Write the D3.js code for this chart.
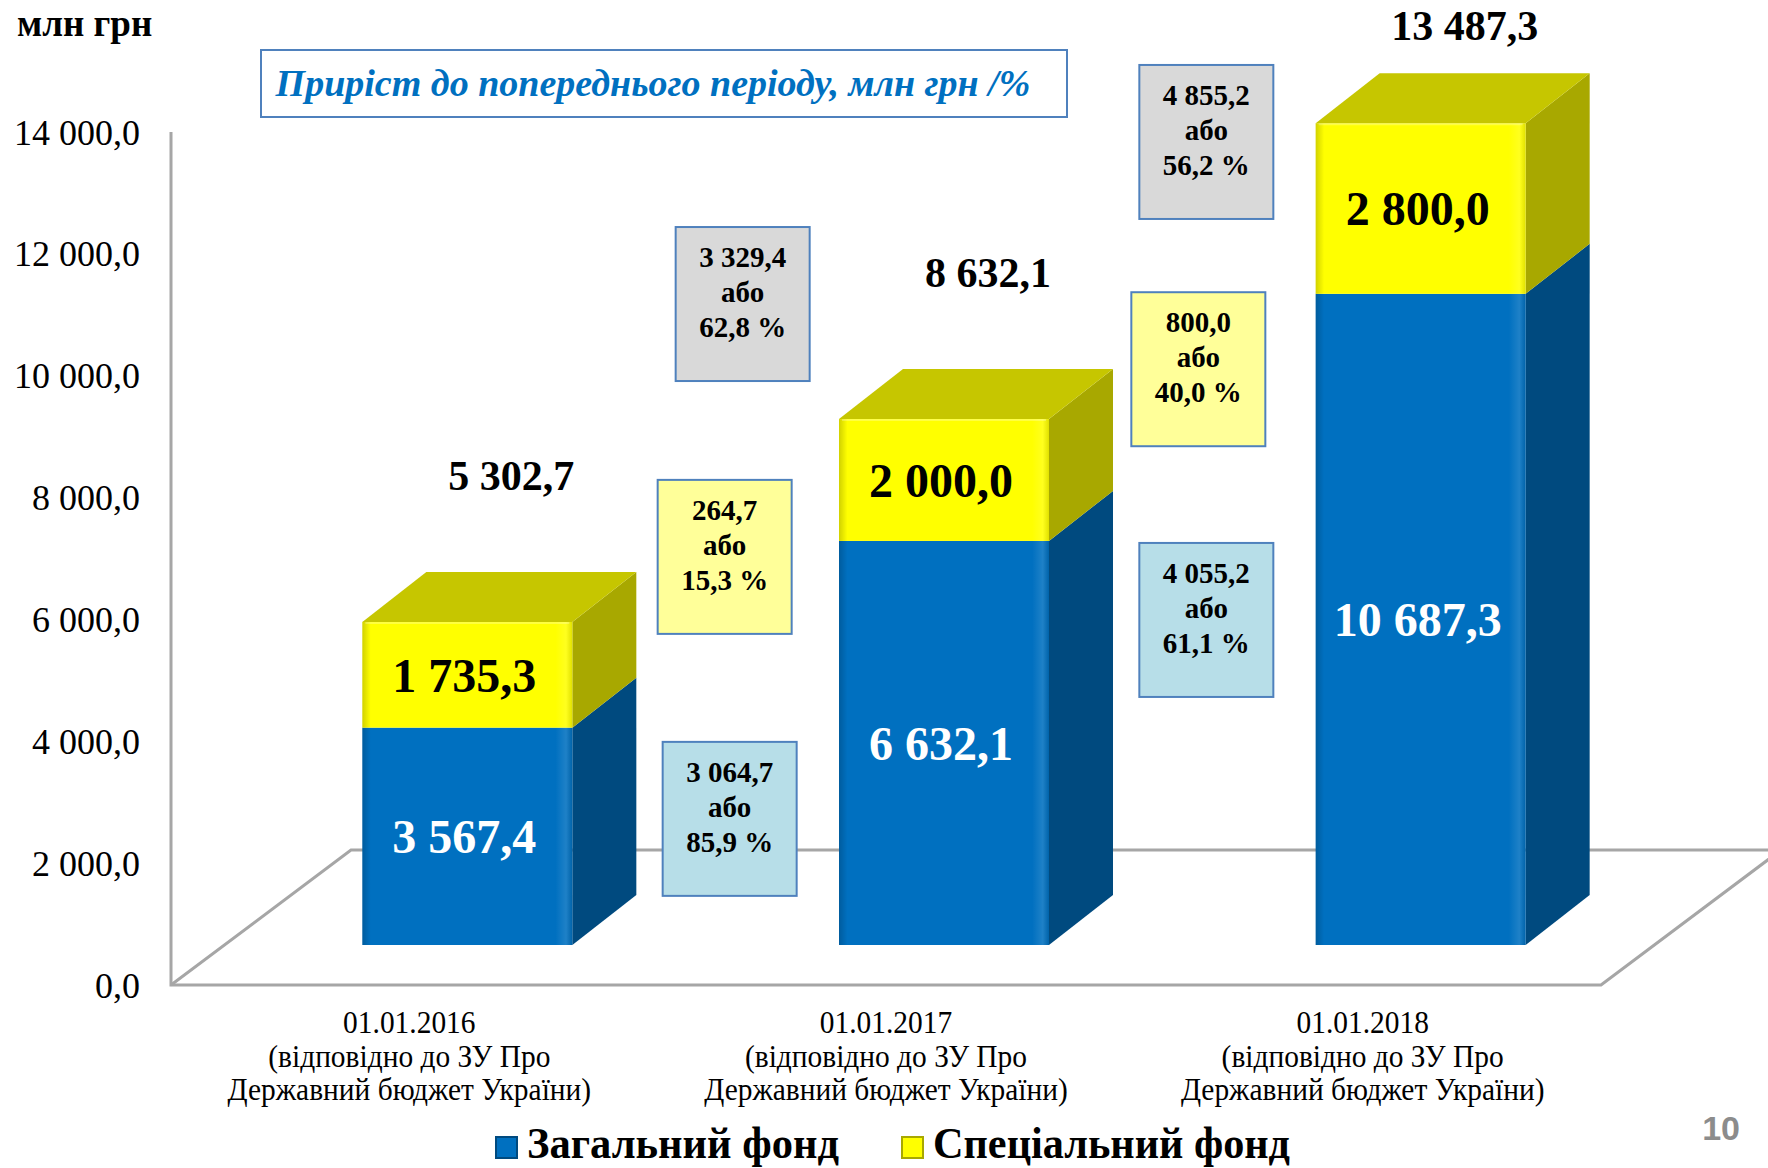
<!DOCTYPE html>
<html>
<head>
<meta charset="utf-8">
<script src="https://cdn.jsdelivr.net/npm/d3@7"></script>
<style>
  html, body { margin: 0; padding: 0; background: #fff; }
  svg { display: block; font-family: "Liberation Serif", "Times New Roman", serif; }
</style>
</head>
<body>
<div id="chart"></div>
<script>
// data
var categories = ["01.01.2016", "01.01.2017", "01.01.2018"];
var catNote1 = "(відповідно до ЗУ Про";
var catNote2 = "Державний бюджет України)";
var generalFund = [3567.4, 6632.1, 10687.3];
var specialFund = [1735.3, 2000.0, 2800.0];
var yTicks = [0, 2000, 4000, 6000, 8000, 10000, 12000, 14000];

// growth vs previous period (between the bars)
var growthTotal = [3329.4, 4855.2], growthTotalPct = [62.8, 56.2];
var growthSpecial = [264.7, 800.0], growthSpecialPct = [15.3, 40.0];
var growthGeneral = [3064.7, 4055.2], growthGeneralPct = [85.9, 61.1];

var seriesNames = ["Загальний фонд", "Спеціальний фонд"];

// layout
var W = 1768, H = 1168;
var axisX = 171, floorRight = 1601;
var depth = {x: 180, y: -135};      // floor depth
var plane = {x: 58, y: -40};         // bar front plane offset from the front edge
var barDepth = {x: 64, y: -50};
var barW = 210;

var svg = d3.select("#chart").append("svg").attr("width", W).attr("height", H);

var defs = svg.append("defs");
var shade = defs.append("linearGradient").attr("id", "frontShade");
shade.append("stop").attr("offset", "0").attr("stop-color", "#000").attr("stop-opacity", 0.18);
shade.append("stop").attr("offset", "0.04").attr("stop-color", "#000").attr("stop-opacity", 0);
shade.append("stop").attr("offset", "0.92").attr("stop-color", "#fff").attr("stop-opacity", 0);
shade.append("stop").attr("offset", "0.97").attr("stop-color", "#fff").attr("stop-opacity", 0.12);
shade.append("stop").attr("offset", "1").attr("stop-color", "#000").attr("stop-opacity", 0.12);

var uk = d3.formatLocale({decimal: ",", thousands: " ", grouping: [3], currency: ["", ""]});
var fmt = uk.format(",.1f");

var y = d3.scaleLinear().domain([0, 14000]).range([985, 132]);
var x = d3.scaleBand().domain(categories).range([axisX, floorRight]);

var table = categories.map(function(c, i) {
    return {cat: c, general: generalFund[i], special: specialFund[i]};
});
var stacked = d3.stack().keys(["general", "special"])(table);

var colors = {
    general: {front: "#0070c0", side: "#004a7f", top: "#0a5a9a"},
    special: {front: "#ffff00", side: "#a8a800", top: "#c6c600"}
};

// floor & axis
var gray = "#a6a6a6";
var y0 = y(0);
svg.append("path")
    .attr("d", "M" + axisX + "," + y0 + "L" + (axisX + depth.x) + "," + (y0 + depth.y) + "L" + W + "," + (y0 + depth.y))
    .attr("fill", "none").attr("stroke", gray).attr("stroke-width", 3);
svg.append("path")
    .attr("d", "M" + axisX + "," + y(14000) + "L" + axisX + "," + y0 + "L" + floorRight + "," + y0 + "L" + (floorRight + depth.x) + "," + (y0 + depth.y))
    .attr("fill", "none").attr("stroke", gray).attr("stroke-width", 3);

// y labels
svg.append("g").selectAll("text").data(yTicks).join("text")
    .attr("x", 140).attr("y", function(d) { return y(d); }).attr("dy", "0.35em")
    .attr("text-anchor", "end").attr("font-size", 36)
    .text(function(d) { return fmt(d); });

svg.append("text").attr("x", 17).attr("y", 36).attr("font-size", 37).attr("font-weight", "bold").text("млн грн");

// bars
var barX = function(c) { return x(c) + x.bandwidth() / 2 + plane.x - barW / 2; };
var barY = function(v) { return y(v) + plane.y; };

var barsG = svg.append("g");
stacked.forEach(function(s, si) {
    var col = colors[s.key];
    s.forEach(function(d, i) {
        var x0 = barX(d.data.cat), x1 = x0 + barW;
        var yb = barY(d[0]), yt = barY(d[1]);
        var g = barsG.append("g");
        g.append("path")
            .attr("d", "M" + x1 + "," + yb + "L" + (x1 + barDepth.x) + "," + (yb + barDepth.y) +
                "L" + (x1 + barDepth.x) + "," + (yt + barDepth.y) + "L" + x1 + "," + yt + "Z")
            .attr("fill", col.side);
        g.append("rect").attr("x", x0).attr("y", yt).attr("width", barW).attr("height", yb - yt)
            .attr("fill", col.front);
        g.append("rect").attr("x", x0).attr("y", yt).attr("width", barW).attr("height", yb - yt)
            .attr("fill", "url(#frontShade)");
        if (si === stacked.length - 1) {
            g.append("path")
                .attr("d", "M" + x0 + "," + yt + "L" + x1 + "," + yt + "L" + (x1 + barDepth.x) + "," + (yt + barDepth.y) +
                    "L" + (x0 + barDepth.x) + "," + (yt + barDepth.y) + "Z")
                .attr("fill", col.top);
            g.append("line").attr("x1", x0 + 3).attr("x2", x1 - 3).attr("y1", yt + 1).attr("y2", yt + 1)
                .attr("stroke", "#fff").attr("stroke-opacity", 0.25).attr("stroke-width", 2);
        }
        g.append("text")
            .attr("x", x0 + barW / 2 - 3).attr("y", (yt + yb) / 2).attr("dy", "0.35em")
            .attr("text-anchor", "middle").attr("font-size", 48).attr("font-weight", "bold")
            .attr("fill", s.key === "general" ? "#fff" : "#000")
            .text(fmt(d.data[s.key]));
    });
});

// totals above bars
var topSeries = stacked[stacked.length - 1];
svg.append("g").selectAll("text").data(topSeries).join("text")
    .attr("x", function(d) { return barX(d.data.cat) + barW / 2 + 44; })
    .attr("y", function(d) { return Math.max(40, barY(d[1]) - 132); })
    .attr("text-anchor", "middle").attr("font-size", 42).attr("font-weight", "bold")
    .text(function(d) { return fmt(d[1]); });

// category labels
var catG = svg.append("g").selectAll("g").data(categories).join("g")
    .attr("transform", function(d) { return "translate(" + (x(d) + x.bandwidth() / 2) + ",0) scale(0.92,1)"; });
catG.append("text").attr("y", 1033).text(function(d) { return d; });
catG.append("text").attr("y", 1067).text(catNote1);
catG.append("text").attr("y", 1100).text(catNote2);
catG.selectAll("text").attr("text-anchor", "middle").attr("font-size", 32);

// title box
svg.append("rect").attr("x", 261).attr("y", 50).attr("width", 806).attr("height", 67)
    .attr("fill", "#fff").attr("stroke", "#4f81bd").attr("stroke-width", 2);
svg.append("text").attr("x", 653).attr("y", 96).attr("text-anchor", "middle")
    .attr("font-size", 38).attr("font-weight", "bold").attr("font-style", "italic").attr("fill", "#0070c0")
    .text("Приріст до попереднього періоду, млн грн /%");

// growth boxes, centred between bars; vertical anchors in chart units
var boxLayout = [
    {abs: growthTotal, pct: growthTotalPct, fill: "#d9d9d9", at: [10520, 13180], dx: [13, 0]},
    {abs: growthSpecial, pct: growthSpecialPct, fill: "#ffff99", at: [6370, 9450], dx: [-5, -8]},
    {abs: growthGeneral, pct: growthGeneralPct, fill: "#b7dee8", at: [2070, 5335], dx: [0, 0]}
];
var boxW = 134, boxH = 154;
boxLayout.forEach(function(b) {
    b.abs.forEach(function(v, i) {
        var leftEnd = barX(categories[i]) + barW + barDepth.x;
        var rightStart = barX(categories[i + 1]);
        var cx = (leftEnd + rightStart) / 2 - 8 + b.dx[i];
        var cy = barY(b.at[i]);
        var g = svg.append("g").attr("transform", "translate(" + cx + "," + cy + ")");
        g.append("rect").attr("x", -boxW / 2).attr("y", -boxH / 2).attr("width", boxW).attr("height", boxH)
            .attr("fill", b.fill).attr("stroke", "#4f81bd").attr("stroke-width", 2);
        var lines = [fmt(v), "або", fmt(b.pct[i]) + " %"];
        g.selectAll("text").data(lines).join("text")
            .attr("x", 0).attr("y", function(d, k) { return -37 + k * 35; })
            .attr("text-anchor", "middle").attr("font-size", 29).attr("font-weight", "bold")
            .text(function(d) { return d; });
    });
});

// legend
var legend = [
    {name: seriesNames[0], key: "general", x: 496, len: 312},
    {name: seriesNames[1], key: "special", x: 902, len: 357}
];
var lg = svg.append("g").selectAll("g").data(legend).join("g");
lg.append("rect").attr("x", function(d) { return d.x; }).attr("y", 1137).attr("width", 21).attr("height", 21)
    .attr("fill", function(d) { return colors[d.key].front; })
    .attr("stroke", function(d) { return colors[d.key].side; }).attr("stroke-width", 2);
lg.append("text").attr("x", function(d) { return d.x + 31; }).attr("y", 1158)
    .attr("font-size", 44).attr("font-weight", "bold")
    .attr("textLength", function(d) { return d.len; }).attr("lengthAdjust", "spacingAndGlyphs")
    .text(function(d) { return d.name; });

// slide number
svg.append("text").attr("x", 1740).attr("y", 1140).attr("text-anchor", "end")
    .attr("font-family", "Liberation Sans, Arial, sans-serif").attr("font-size", 34).attr("font-weight", "bold")
    .attr("fill", "#8c8c8c").text("10");
</script>
</body>
</html>
